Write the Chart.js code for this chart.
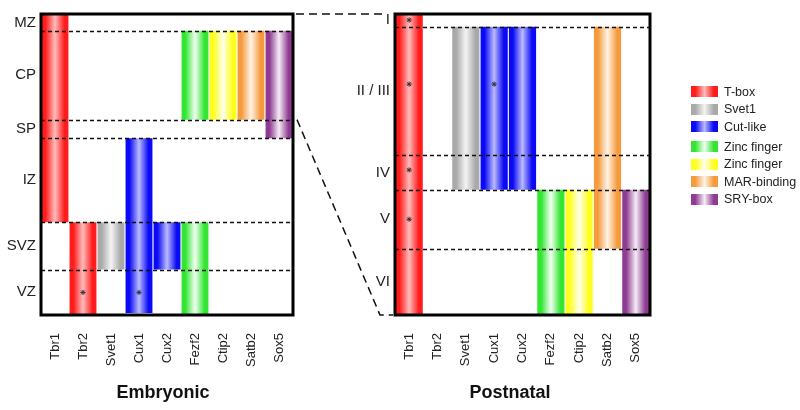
<!DOCTYPE html>
<html>
<head>
<meta charset="utf-8">
<script src="https://cdn.jsdelivr.net/npm/chart.js@4.4.1/dist/chart.umd.min.js"></script>
<style>
  html, body { margin: 0; padding: 0; background: #fff; }
  #wrap { position: relative; width: 800px; height: 410px; font-family: 'Liberation Sans', Arial, sans-serif; }
  #wrap canvas { position: absolute; left: 0; top: 0; }
  #legend { position: absolute; left: 691px; top: 83px; font-size: 12.5px; color: #222; }
  #legend .row { display: flex; align-items: center; height: 17.5px; }
  #legend .row.gap { margin-top: 2.5px; }
  #legend .sw { width: 27px; height: 11px; margin-right: 6px; }
</style>
</head>
<body>
<div id="wrap">
  <canvas id="embryonic" width="325" height="410"></canvas>
  <canvas id="postnatal" width="800" height="410"></canvas>
  <div id="legend"></div>
</div>
<script>
const genes = ['Tbr1', 'Tbr2', 'Svet1', 'Cux1', 'Cux2', 'Fezf2', 'Ctip2', 'Satb2', 'Sox5'];
const geneFamily = [0, 0, 1, 2, 2, 3, 4, 5, 6];

const familyNames = ['T-box', 'Svet1', 'Cut-like', 'Zinc finger', 'Zinc finger', 'MAR-binding', 'SRY-box'];
const familyEdge = ['#ff1c1c', '#a9a9a9', '#0a0af5', '#33e633', '#ffff1e', '#f59b3e', '#8e3c92'];
const familyLight = ['#ffbcbc', '#f4f4f4', '#babaff', '#f2fff2', '#ffffee', '#fff3e6', '#f6ecf6'];

// depth 0 = pial surface (top), 100 = ventricle / white matter (bottom)
const embLayers = ['MZ', 'CP', 'SP', 'IZ', 'SVZ', 'VZ'];
const embBounds = [0, 5.6, 35.1, 41.3, 69.2, 84.9, 100];
const embMain = [[0, 69.2], [69.2, 100], [69.2, 84.9], [41.3, 99.3], [69.2, 84.9], [5.6, 35.1], [5.6, 35.1], [5.6, 35.1], [5.6, 41.3]];
const embExtra = [null, null, null, null, null, [69.2, 100], null, null, null];
const embStars = [{ x: 'Tbr2', y: 92.5 }, { x: 'Cux1', y: 92.5 }];

const postLayers = ['I', 'II / III', 'IV', 'V', 'VI'];
const postBounds = [0, 4.2, 46.9, 58.4, 78.0, 100];
const postMain = [[0, 100], null, [4.2, 58.4], [4.2, 58.4], [4.2, 58.4], [58.4, 100], [58.4, 100], [4.2, 78.0], [58.4, 100]];
const postStars = [{ x: 'Tbr1', y: 2 }, { x: 'Tbr1', y: 23.3 }, { x: 'Tbr1', y: 51.8 }, { x: 'Tbr1', y: 68.2 }, { x: 'Cux1', y: 23.3 }];

Chart.defaults.font.family = "'Liberation Sans', Arial, sans-serif";
Chart.defaults.color = '#222';

function gradFill(ctx) {
  const fam = geneFamily[ctx.dataIndex];
  const chart = ctx.chart;
  if (ctx.type !== 'data' || !chart.chartArea) return familyEdge[fam];
  const xs = chart.scales.x;
  const cx = xs.getPixelForValue(ctx.dataIndex);
  const w = xs.width / genes.length;
  const g = chart.ctx.createLinearGradient(cx - w / 2, 0, cx + w / 2, 0);
  g.addColorStop(0, familyEdge[fam]);
  g.addColorStop(0.16, familyEdge[fam]);
  g.addColorStop(0.5, familyLight[fam]);
  g.addColorStop(0.84, familyEdge[fam]);
  g.addColorStop(1, familyEdge[fam]);
  return g;
}

const layersPlugin = {
  id: 'layers',
  afterDatasetsDraw(chart, args, opts) {
    const { ctx, chartArea } = chart;
    const ys = chart.scales.y;
    ctx.save();
    ctx.strokeStyle = '#111';
    ctx.lineWidth = 1.4;
    ctx.setLineDash([4, 3]);
    opts.bounds.slice(1, -1).forEach(b => {
      const y = Math.round(ys.getPixelForValue(b)) + 0.5;
      ctx.beginPath();
      ctx.moveTo(chartArea.left, y);
      ctx.lineTo(chartArea.right, y);
      ctx.stroke();
    });
    ctx.restore();
  },
  afterDraw(chart) {
    const { ctx, chartArea } = chart;
    ctx.save();
    ctx.strokeStyle = '#000';
    ctx.lineWidth = 3;
    ctx.strokeRect(chartArea.left, chartArea.top, chartArea.right - chartArea.left, chartArea.bottom - chartArea.top);
    ctx.restore();
  }
};

// padLeft/padRight + axis widths place the frame and keep the title centred where the original has it
function panelConfig(title, layers, bounds, datasets, padLeft, padRight, axisWidth, spacerWidth) {
  const mids = layers.map((_, i) => (bounds[i] + bounds[i + 1]) / 2);
  return {
    type: 'bar',
    data: { labels: genes, datasets },
    options: {
      responsive: false,
      animation: false,
      events: [],
      layout: { padding: { left: padLeft, right: padRight, top: 10, bottom: 0 } },
      scales: {
        x: {
          grid: { display: false, drawTicks: false },
          border: { display: false },
          ticks: { minRotation: 90, maxRotation: 90, autoSkip: false, padding: 18, font: { size: 13 }, color: '#222' },
          afterFit: s => { s.height = 67.4; }
        },
        y: {
          type: 'linear', min: 0, max: 100, reverse: true,
          grid: { display: false, drawTicks: false },
          border: { display: false },
          ticks: { padding: 5, font: { size: 15 }, color: '#222', callback: (v, i) => layers[i] },
          afterBuildTicks: s => { s.ticks = mids.map(v => ({ value: v })); },
          afterFit: s => { s.width = axisWidth; }
        },
        spacer: {
          type: 'linear', position: 'right', min: 0, max: 1,
          grid: { display: false, drawTicks: false },
          border: { display: false },
          ticks: { display: false },
          afterFit: s => { s.width = spacerWidth; }
        }
      },
      plugins: {
        legend: { display: false },
        tooltip: { enabled: false },
        title: {
          display: true, position: 'bottom', text: title, color: '#111',
          font: { size: 18, weight: 'bold' }, padding: { top: 0, bottom: 6 }
        },
        layers: { bounds }
      }
    },
    plugins: [layersPlugin]
  };
}

function barSet(data) {
  return { type: 'bar', data, order: 1, grouped: false, categoryPercentage: 1, barPercentage: 0.96, borderWidth: 0, backgroundColor: gradFill };
}

function starSet(data) {
  return { type: 'line', data, order: 0, showLine: false, pointStyle: 'star', pointRadius: 2.6, borderWidth: 1, borderColor: '#333', backgroundColor: '#333' };
}

const embChart = new Chart(document.getElementById('embryonic'),
  panelConfig('Embryonic', embLayers, embBounds, [barSet(embMain), barSet(embExtra), starSet(embStars)], 1, 0, 40, 32));

const connectorPlugin = {
  id: 'connector',
  afterDraw(chart) {
    const { ctx, chartArea } = chart;
    const eArea = embChart.chartArea;
    const yCP = embChart.scales.y.getPixelForValue(embBounds[2]);
    ctx.save();
    ctx.strokeStyle = '#111';
    ctx.lineWidth = 1.5;
    ctx.setLineDash([8, 5]);
    ctx.beginPath();
    ctx.moveTo(eArea.right + 3, chartArea.top);
    ctx.lineTo(chartArea.left - 11, chartArea.top);
    ctx.stroke();
    ctx.beginPath();
    ctx.moveTo(eArea.right + 4, yCP);
    ctx.lineTo(chartArea.left - 15, chartArea.bottom);
    ctx.lineTo(chartArea.left - 2, chartArea.bottom);
    ctx.stroke();
    ctx.restore();
  }
};

const postCfg = panelConfig('Postnatal', postLayers, postBounds, [barSet(postMain), starSet(postStars)], 350, 130, 45, 20);
postCfg.plugins.push(connectorPlugin);
const postChart = new Chart(document.getElementById('postnatal'), postCfg);

const legendEl = document.getElementById('legend');
familyNames.forEach((name, i) => {
  const row = document.createElement('div');
  row.className = 'row' + (i === 3 ? ' gap' : '');
  const sw = document.createElement('div');
  sw.className = 'sw';
  sw.style.background = `linear-gradient(to right, ${familyEdge[i]} 0%, ${familyEdge[i]} 16%, ${familyLight[i]} 50%, ${familyEdge[i]} 84%, ${familyEdge[i]} 100%)`;
  const txt = document.createElement('span');
  txt.textContent = name;
  row.appendChild(sw);
  row.appendChild(txt);
  legendEl.appendChild(row);
});
</script>
</body>
</html>
